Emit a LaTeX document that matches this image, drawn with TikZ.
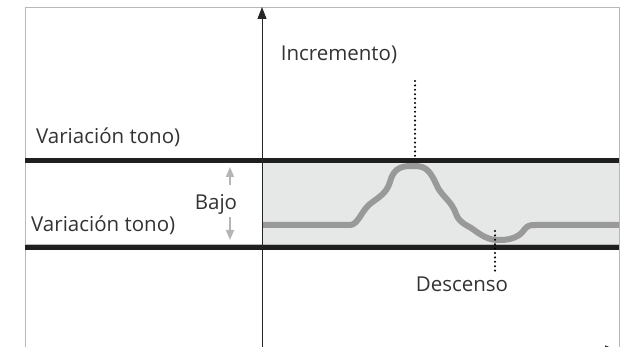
\documentclass[tikz,border=0pt]{standalone}
\usepackage{fontspec}
\setmainfont{Open Sans}
\usetikzlibrary{arrows.meta}
\definecolor{txt}{HTML}{333333}
\definecolor{band}{HTML}{E6E7E7}
\definecolor{curvec}{HTML}{999999}
\definecolor{framec}{HTML}{B8B8B8}
\definecolor{lightarr}{HTML}{B5B5B5}
\begin{document}
\begin{tikzpicture}[x=1pt,y=-1pt,
  lbl/.style={font=\fontsize{20.5}{24}\selectfont, text=txt, inner sep=0pt},
  thick line/.style={line width=4.5pt, draw=black!88},
  axis/.style={line width=1pt, draw=black!85, -{Triangle[length=12pt,width=9pt]}},
  dotline/.style={line width=2.3pt, dash pattern=on 0pt off 4.4pt, line cap=round},
  wave/.style={line width=6pt, draw=curvec, line join=round, line cap=butt},
  smallarr/.style={line width=1.5pt, draw=lightarr, -{Triangle[length=10pt,width=8pt]}}]
\useasboundingbox (0,0) rectangle (626,347);
% frame
\draw[framec, line width=1pt] (25,352) -- (25,8) -- (619,8) -- (619,352);
% band
\fill[band] (262,163) rectangle (619,245);
\draw[framec, line width=0.6pt] (25,244.5) -- (619,244.5);
% curve
\draw[wave] (262,225) -- (350,225)
  .. controls (358,225) and (362,210) .. (370,204)
  .. controls (380,196) and (386,194) .. (390,182)
  .. controls (394,166) and (404,166) .. (414,166)
  .. controls (426,166) and (430,170) .. (438,188)
  .. controls (444,198) and (452,202) .. (456,214)
  .. controls (460,224) and (466,224) .. (474,230)
  .. controls (486,239) and (492,240) .. (500,240)
  .. controls (512,240) and (520,236) .. (524,230)
  .. controls (528,225) and (530,225) .. (536,225)
  -- (619,225);
% thick lines
\draw[thick line] (25,160.5) -- (619,160.5);
\draw[thick line] (25,247.5) -- (619,247.5);
% axes
\coordinate (yb) at (262,352);
\coordinate (yt) at (262,7);
\draw[axis] (yb) -- (yt);
\coordinate (xl) at (262,350);
\coordinate (xr) at (617,350);
\draw[axis] (xl) -- (xr);
% dotted lines
\coordinate (d1a) at (415,81);
\coordinate (d1b) at (415,158);
\coordinate (d2a) at (495,231);
\coordinate (d2b) at (495,271);
\draw[dotline] (d1a) -- (d1b);
\draw[dotline] (d2a) -- (d2b);
% labels
\node[lbl] (inc) at (339,55) {Incremento)};
\node[lbl, anchor=west] (vt1) at (36,137) {Variación tono)};
\node[lbl, anchor=west] (vt2) at (31,225) {Variación tono)};
\node[lbl] (bajo) at (216,204) {Bajo};
\node[lbl] (desc) at (462,284) {Descenso};
% small arrows
\coordinate (ua1) at (230,185);
\coordinate (ua2) at (230,167);
\coordinate (da1) at (230,217);
\coordinate (da2) at (230,240);
\draw[smallarr] (ua1) -- (ua2);
\draw[smallarr] (da1) -- (da2);
\end{tikzpicture}
\end{document}
